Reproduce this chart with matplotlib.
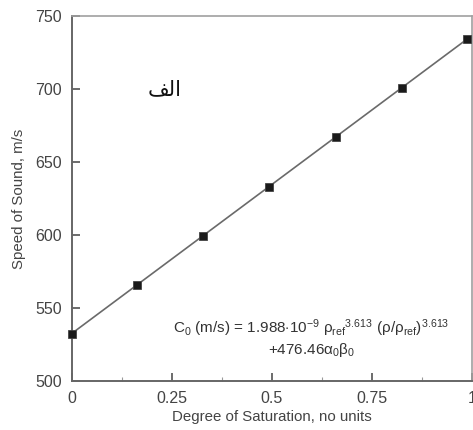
import numpy as np
import matplotlib
matplotlib.use("Agg")
import matplotlib.pyplot as plt
from matplotlib.ticker import MultipleLocator

# Speed of sound vs. degree of saturation
saturation = [0.0, 0.164, 0.328, 0.494, 0.66, 0.825, 0.989]
speed = [532.5, 566.0, 599.5, 633.2, 667.3, 700.8, 734.4]

plt.rcParams['font.family'] = ['Liberation Sans', 'DejaVu Sans']
plt.rcParams['mathtext.fontset'] = 'custom'
plt.rcParams['mathtext.rm'] = 'Liberation Sans'
plt.rcParams['mathtext.it'] = 'Liberation Sans:italic'

fig = plt.figure(figsize=(4.73, 4.30), dpi=100)
ax = fig.add_axes([0.1516, 0.114, 0.8457, 0.8486])

# fitted line through the measurements
coef = np.polyfit(saturation, speed, 1)
xs = np.array([saturation[0], saturation[-1]])
ax.plot(xs, np.polyval(coef, xs), color='#6a6a6a', lw=1.2, zorder=2)
ax.plot(saturation, speed, ls='none', marker='s', ms=6.2,
        mfc='#1a1a1a', mec='#444444', mew=0.6, zorder=3, clip_on=False)

ax.set_xlim(0, 1)
ax.set_ylim(500, 750)
ax.xaxis.set_minor_locator(MultipleLocator(0.125))
ax.yaxis.set_major_locator(MultipleLocator(50))
ax.set_xticks([0, 0.25, 0.5, 0.75, 1])
ax.set_xticklabels(['0', '0.25', '0.5', '0.75', '1'])

ax.tick_params(which='major', direction='in', length=6, width=1.1,
               color='#444444', labelcolor='#444444', labelsize=11.5, pad=7)
ax.tick_params(which='minor', direction='in', length=3, width=0.8,
               color='#999999')
ax.tick_params(axis='y', which='minor', length=0)
ax.tick_params(top=False, right=False, which='both')

for side in ['left', 'bottom']:
    ax.spines[side].set_color('#666666')
    ax.spines[side].set_linewidth(1.4)
for side in ['top', 'right']:
    ax.spines[side].set_color('#a0a0a0')
    ax.spines[side].set_linewidth(1.2)

ax.set_xlabel('Degree of Saturation, no units', color='#444444',
              fontsize=10.8, labelpad=3)
ax.set_ylabel('Speed of Sound, m/s', color='#444444', fontsize=10.8,
              labelpad=7)

# Arabic label, shaped with presentation forms (visual order)
ax.text(0.232, 0.80, '\uFED2\uFEDF\uFE8D', transform=ax.transAxes,
        fontsize=15, color='#111111', family='DejaVu Sans',
        ha='center', va='center')

eq1 = (r'C$_0$ (m/s) = 1.988$\cdot$10$^{-9}$ $\mathrm{\rho}_{\mathrm{ref}}$$^{3.613}$'
       r' ($\mathrm{\rho}$/$\mathrm{\rho}_{\mathrm{ref}}$)$^{3.613}$')
eq2 = r'+476.46$\mathrm{\alpha}_0\mathrm{\beta}_0$'
ax.text(0.253, 0.132, eq1, transform=ax.transAxes, fontsize=11,
        color='#333333', ha='left', va='baseline')
ax.text(0.49, 0.074, eq2, transform=ax.transAxes, fontsize=11,
        color='#333333', ha='left', va='baseline')

fig.savefig('out.png', dpi=100)
